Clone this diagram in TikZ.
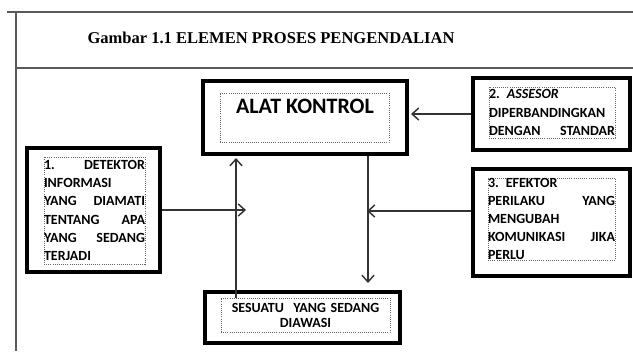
\documentclass[tikz,border=0pt]{standalone}
\usepackage{fontspec}
\setmainfont{Liberation Serif}
\newfontfamily\boxfont{Carlito}
\usetikzlibrary{arrows.meta, positioning}

\begin{document}
\begin{tikzpicture}[x=0.75pt, y=-0.75pt,
    thickbox/.style={draw=black, line width=3pt, inner sep=0pt},
    dotbox/.style={draw=black!60, densely dotted, line width=0.6pt, inner sep=0pt},
    boxtext/.style={font=\boxfont\bfseries\fontsize{10.5}{13.6}\selectfont, align=left},
    flow/.style={draw=black!80, line width=1.1pt, -{Straight Barb[length=5pt, width=9pt]}},
    frame/.style={draw=black!65, line width=1.3pt}]
    \useasboundingbox (0,0) rectangle (633,351);

    % Table frame and title
    \draw[frame] (7,12) -- (633,12);
    \draw[frame] (16,12) -- (16,351);
    \draw[frame] (16,68) -- (633,68);
    \node[font=\bfseries\fontsize{12.4}{15}\selectfont] (title) at (271,38) {Gambar 1.1 ELEMEN PROSES PENGENDALIAN};

    % Alat kontrol
    \node[thickbox, minimum width=153pt, minimum height=54.75pt] (alat) at (305,117.5) {};
    \node[dotbox, minimum width=126.75pt, minimum height=36.75pt] (alat-in) at (304.5,117.5) {};
    \node[font=\boxfont\bfseries\fontsize{16.5}{19}\selectfont] (alat-txt) at (305,106) {ALAT KONTROL};

    % Detektor
    \node[thickbox, minimum width=99.75pt, minimum height=93pt] (detektor) at (93.5,210) {};
    \node[dotbox, boxtext, text width=75.75pt, minimum height=80.25pt] (detektor-in) at (94.5,210.5)
        {1.\hfill DETEKTOR\\INFORMASI\\YANG\hfill DIAMATI\\TENTANG\hfill APA\\YANG\hfill SEDANG\\TERJADI};

    % Assesor
    \node[thickbox, minimum width=117.75pt, minimum height=54pt] (asesor) at (551.5,114) {};
    \node[dotbox, boxtext, text width=94.5pt, minimum height=38.25pt] (asesor-in) at (552,112.5)
        {2. \textit{ASSESOR}\\DIPERBANDINGKAN\\DENGAN\hfill STANDAR};

    % Efektor
    \node[thickbox, minimum width=117.75pt, minimum height=80.25pt] (efektor) at (551.5,222.5) {};
    \node[dotbox, boxtext, text width=95.25pt, minimum height=61.5pt] (efektor-in) at (551.5,219)
        {3. EFEKTOR\\PERILAKU\hfill YANG\\MENGUBAH\\KOMUNIKASI\hfill JIKA\\PERLU};

    % Yang diawasi
    \node[thickbox, minimum width=146.25pt, minimum height=38.25pt] (sesuatu) at (302.5,317.5) {};
    \node[dotbox, boxtext, align=center, text width=126.75pt, minimum height=25.5pt,
        font=\boxfont\bfseries\fontsize{10.5}{11.25}\selectfont] (sesuatu-in) at (305.5,315)
        {SESUATU\ \ YANG SEDANG\\DIAWASI};

    % Arrows
    \coordinate (left-x) at (236,0);
    \coordinate (right-x) at (368,0);
    \coordinate (d-tip) at (246,210);
    \coordinate (e-tip) at (367,211);
    \draw[flow, shorten >=1.5pt] (asesor.west) -- (asesor.west -| alat.east);
    \draw[flow] (detektor.east) -- (d-tip);
    \draw[flow, shorten >=1.5pt] (left-x |- sesuatu-in.north) -- (left-x |- alat.south);
    \draw[flow, shorten >=5.25pt] (right-x |- alat.south) -- (right-x |- sesuatu.north);
    \draw[flow] (efektor.west |- e-tip) -- (e-tip);

\end{tikzpicture}
\end{document}
